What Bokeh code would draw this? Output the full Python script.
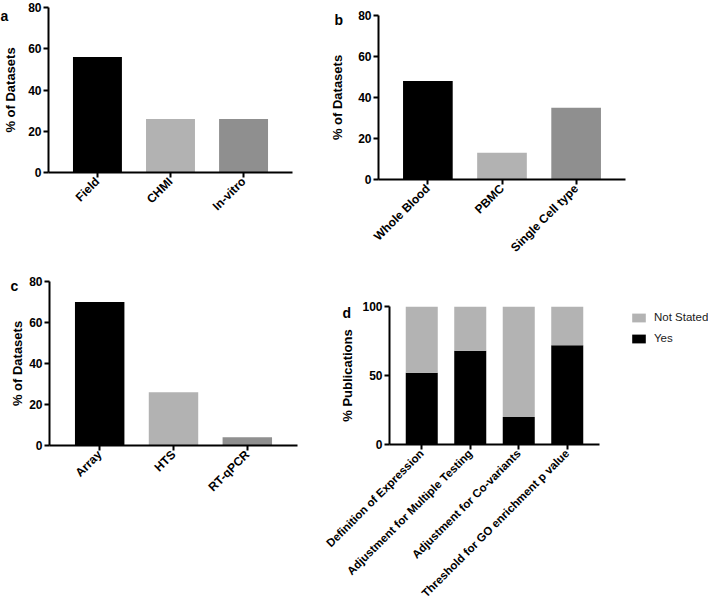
from bokeh.plotting import figure
from bokeh.models import (FactorRange, Range1d, FixedTicker, Label, Legend,
                          LegendItem, ColumnDataSource)
from bokeh.layouts import row, column
from bokeh.embed import file_html
from bokeh.resources import INLINE
import math

# ---------------- data ----------------
source_cats = ["Field", "CHMI", "In-vitro"]
source_vals = [56, 26, 26]

tissue_cats = ["Whole Blood", "PBMC", "Single Cell type"]
tissue_vals = [48, 13, 35]

platform_cats = ["Array", "HTS", "RT-qPCR"]
platform_vals = [70, 26, 4]

report_cats = ["Definition of Expression", "Adjustment for Multiple Testing",
               "Adjustment for Co-variants", "Threshold for GO enrichment p value"]
report_yes = [52, 68, 20, 72]
report_not_stated = [48, 32, 80, 28]
report_series = ["Not Stated", "Yes"]

pct_ticks = [0, 20, 40, 60, 80]
pub_ticks = [0, 50, 100]

bar_colors = ["#000000", "#b2b2b2", "#8f8f8f"]
stack_colors = ["#000000", "#b3b3b3"]

FONT = "Liberation Sans"


def make_panel(cats, width, height, borders, pad, y_end, ticks, ylabel,
               label_standoff, xlabel_size):
    l, r, t, b = borders
    p = figure(x_range=FactorRange(factors=cats, range_padding=pad,
                                   range_padding_units="absolute"),
               y_range=Range1d(0, y_end), width=width, height=height,
               output_backend="svg", toolbar_location=None,
               min_border_left=l, min_border_right=r,
               min_border_top=t, min_border_bottom=b)
    try:
        p.frame_align = False
    except Exception:
        pass
    p.xgrid.visible = False
    p.ygrid.visible = False
    p.outline_line_color = None
    p.background_fill_color = "white"
    p.border_fill_color = "white"
    for ax in (p.xaxis[0], p.yaxis[0]):
        ax.axis_line_width = 2
        ax.axis_line_color = "black"
        ax.major_tick_line_width = 2
        ax.major_tick_line_color = "black"
        ax.major_tick_out = 5
        ax.major_tick_in = 0
        ax.minor_tick_line_color = None
        ax.major_label_text_font = FONT
        ax.major_label_text_font_style = "bold"
        ax.major_label_text_color = "black"
        ax.major_label_standoff = 2
    p.yaxis.ticker = FixedTicker(ticks=ticks)
    p.yaxis.major_label_text_font_size = "12px"
    p.yaxis.axis_label = ylabel
    p.yaxis.axis_label_text_font = FONT
    p.yaxis.axis_label_text_font_style = "bold"
    p.yaxis.axis_label_text_font_size = "13px"
    p.yaxis.axis_label_text_color = "black"
    p.yaxis.axis_label_standoff = label_standoff
    p.xaxis.major_label_orientation = math.pi / 4
    p.xaxis.major_label_text_font_size = xlabel_size
    return p


def add_letter(p, letter, cx, cy_baseline):
    kw = dict(text=letter, text_font=FONT, text_font_style="bold",
              text_font_size="14px", text_color="black",
              text_baseline="alphabetic", text_align="left")
    try:
        lab = Label(x=cx, y=cy_baseline, x_units="canvas",
                    y_units="canvas", **kw)
    except Exception:
        lab = Label(x=cx, y=cy_baseline, x_units="screen",
                    y_units="screen", **kw)
    p.add_layout(lab, "right")


def simple_bars(p, cats, vals):
    src = ColumnDataSource(dict(cat=cats, val=vals, color=bar_colors))
    p.vbar(x="cat", top="val", width=0.67, color="color", line_color=None,
           source=src)


# panel a  (305 x 262)
pa = make_panel(source_cats, 305, 262, (43, 13, 7, 90), 0.17, 80, pct_ticks,
                "% of Datasets", 7, "12px")
simple_bars(pa, source_cats, source_vals)
add_letter(pa, "a", 0, 15)

# panel b  (403 x 262)
pb = make_panel(tissue_cats, 403, 262, (73, 83, 15, 82), 0.166, 80, pct_ticks,
                "% of Datasets", 10, "12px")
simple_bars(pb, tissue_cats, tissue_vals)
add_letter(pb, "b", 29, 19)

# panel c  (305 x 344)
pc = make_panel(platform_cats, 305, 344, (49, 7, 19, 161), 0.18, 80,
                pct_ticks, "% of Datasets", 1, "12px")
simple_bars(pc, platform_cats, platform_vals)
add_letter(pc, "c", 10, 23)

# panel d  (305 x 344) + legend strip (98 x 344)
pd = make_panel(report_cats, 305, 344, (84, 11, 44, 160), 0.165, 100,
                pub_ticks, "% Publications", 4, "11.5px")
src_d = ColumnDataSource(dict(cat=report_cats, yes=report_yes,
                              ns=report_not_stated))
pd.vbar_stack(["yes", "ns"], x="cat", width=0.66, color=stack_colors,
              line_color=None, source=src_d)
add_letter(pd, "d", 37, 50)

# legend strip: same stacked series, drawn outside its visible y range
lf = figure(width=98, height=344, x_range=FactorRange(factors=report_cats),
            y_range=Range1d(101, 200),
            x_axis_location=None, y_axis_location=None, toolbar_location=None,
            output_backend="svg", min_border=0)
try:
    lf.frame_align = False
except Exception:
    pass
lf.xgrid.visible = False
lf.ygrid.visible = False
lf.outline_line_color = None
lf.background_fill_color = "white"
lf.border_fill_color = "white"
leg_rs = lf.vbar_stack(["yes", "ns"], x="cat", width=0.66, color=stack_colors,
                       line_color=None, source=src_d)
legend = Legend(items=[LegendItem(label=report_series[0], renderers=[leg_rs[1]]),
                       LegendItem(label=report_series[1], renderers=[leg_rs[0]])],
                location=(20, 262), padding=0, margin=0, spacing=9,
                glyph_width=17, glyph_height=11, label_height=11,
                label_standoff=7, label_text_font=FONT,
                label_text_font_size="11.5px", label_text_color="#1a1a1a",
                border_line_color=None, background_fill_alpha=0)
lf.add_layout(legend, "center")

layout = column(row(pa, pb), row(pc, pd, lf))
open("out.html", "w").write(file_html(layout, INLINE))
